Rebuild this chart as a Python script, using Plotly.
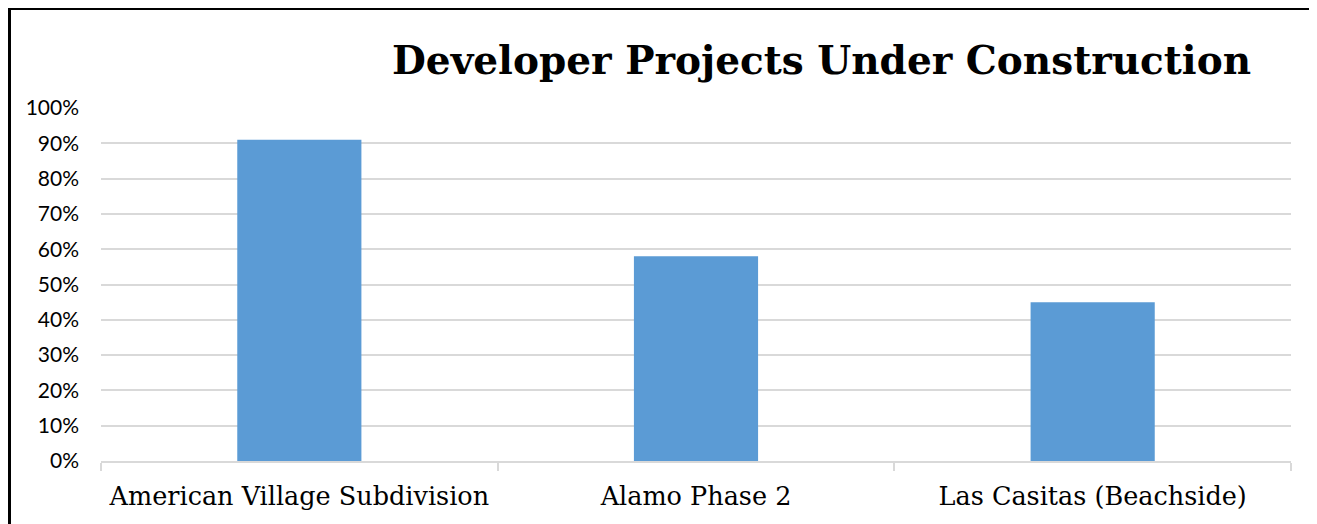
import plotly.graph_objects as go

categories = ["American Village Subdivision", "Alamo Phase 2", "Las Casitas (Beachside)"]
values = [0.91, 0.58, 0.45]
title_text = "Developer Projects Under Construction"

W, H = 1317, 524
OFF = 8  # page body margin
L, R, T, B = 101 - OFF, 1291 - OFF, 108 - OFF, 461 - OFF

def px_x(x):
    return (x - OFF - L) / (R - L)

def px_y(y):
    return (B - (y - OFF)) / (B - T)

fig = go.Figure(go.Bar(
    x=categories, y=values,
    marker=dict(color="#5b9bd5", line=dict(width=0)),
))

fig.update_layout(
    width=W, height=H,
    margin=dict(l=L, r=W - R, t=T, b=H - B, autoexpand=False),
    paper_bgcolor="white", plot_bgcolor="white",
    bargap=0.687,
    showlegend=False,
    font=dict(family="Lato, Open Sans, sans-serif", color="#000000"),
)
fig.update_yaxes(
    range=[0, 1.0], dtick=0.1, tickformat=".0%",
    showgrid=True, gridcolor="#d9d9d9", gridwidth=1.5,
    zeroline=False, showline=False,
    tickfont=dict(family="Lato, Open Sans, sans-serif", size=21, color="#000000"),
    ticks="", ticklabelstandoff=21,
)
fig.update_xaxes(
    showline=True, linecolor="#d9d9d9", linewidth=1.5,
    ticks="outside", tickson="boundaries", ticklen=8, tickcolor="#d9d9d9", tickwidth=1.5,
    showgrid=False,
    tickfont=dict(family="DejaVu Serif, serif", size=25.5, color="#000000"),
    ticklabelstandoff=12,
)
fig.add_annotation(
    text="<b>" + title_text + "</b>", xref="paper", yref="paper",
    x=px_x(821.5), y=px_y(60), xanchor="center", yanchor="middle",
    showarrow=False,
    font=dict(family="DejaVu Serif, serif", size=39, color="#000000"),
)
# outer frame lines (left and top)
fig.add_shape(type="line", xref="paper", yref="paper",
              x0=px_x(9.5), x1=px_x(9.5), y0=px_y(540), y1=px_y(8),
              line=dict(color="black", width=3))
fig.add_shape(type="line", xref="paper", yref="paper",
              x0=px_x(8), x1=px_x(1340), y0=px_y(9), y1=px_y(9),
              line=dict(color="black", width=2))

fig.write_html("out.html")
